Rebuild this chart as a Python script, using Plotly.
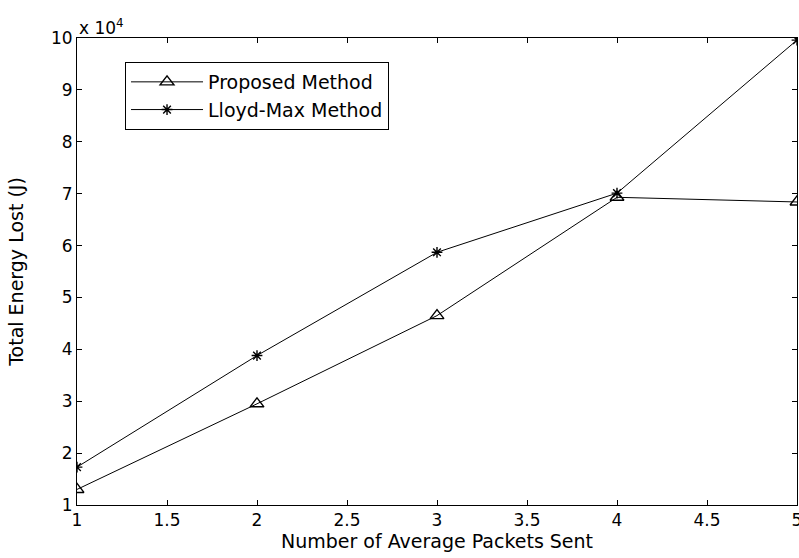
import plotly.graph_objects as go

packets = [1, 2, 3, 4, 5]
proposed = [1.30, 2.95, 4.65, 6.93, 6.84]
lloyd = [1.73, 3.88, 5.87, 7.01, 9.96]
x_ticks = [1, 1.5, 2, 2.5, 3, 3.5, 4, 4.5, 5]
x_tick_labels = ["1", "1.5", "2", "2.5", "3", "3.5", "4", "4.5", "5"]
y_ticks = [1, 2, 3, 4, 5, 6, 7, 8, 9, 10]

family = "DejaVu Sans, Verdana, sans-serif"
tick_font = dict(family=family, size=17, color="black")
text_font = dict(family=family, size=19, color="black")

fig = go.Figure()
fig.add_trace(go.Scatter(
    x=packets, y=proposed, mode="lines+markers", name="Proposed Method",
    line=dict(color="black", width=1),
    marker=dict(symbol="triangle-up-open", size=12, color="black", line=dict(width=1.4)),
))
fig.add_trace(go.Scatter(
    x=packets, y=lloyd, mode="lines+markers", name="Lloyd-Max Method",
    line=dict(color="black", width=1),
    marker=dict(symbol="asterisk-open", size=9, color="black", line=dict(width=1.4)),
))

axis_common = dict(
    showgrid=False, zeroline=False, showline=True, linecolor="black", linewidth=1,
    mirror="ticks", ticks="inside", ticklen=5, tickcolor="black", tickwidth=1,
    tickfont=tick_font, automargin=False, ticklabeloverflow="allow",
)
fig.update_xaxes(range=[1, 5], tickvals=x_ticks, ticktext=x_tick_labels,
                 title=dict(text="Number of Average Packets Sent", font=text_font, standoff=0), **axis_common)
fig.update_yaxes(range=[1, 10], tickvals=y_ticks,
                 title=dict(text="Total Energy Lost (J)", font=text_font, standoff=22), **axis_common)

fig.add_annotation(text="x 10<sup>4</sup>", xref="paper", yref="paper", x=0.0, y=1.0,
                   xanchor="left", yanchor="bottom", showarrow=False, font=tick_font, yshift=-2)

fig.update_layout(
    width=799, height=558, paper_bgcolor="white", plot_bgcolor="white",
    margin=dict(l=77, r=2, t=38, b=53),
    font=tick_font,
    legend=dict(x=0.0667, y=0.9486, xanchor="left", yanchor="top",
                bordercolor="black", borderwidth=1, bgcolor="white",
                font=text_font, tracegroupgap=0, itemwidth=72),
)
fig.write_html(
    "out.html",
    config={"displayModeBar": False},
    post_script="document.body.style.margin='0';document.body.style.overflow='hidden';",
)
